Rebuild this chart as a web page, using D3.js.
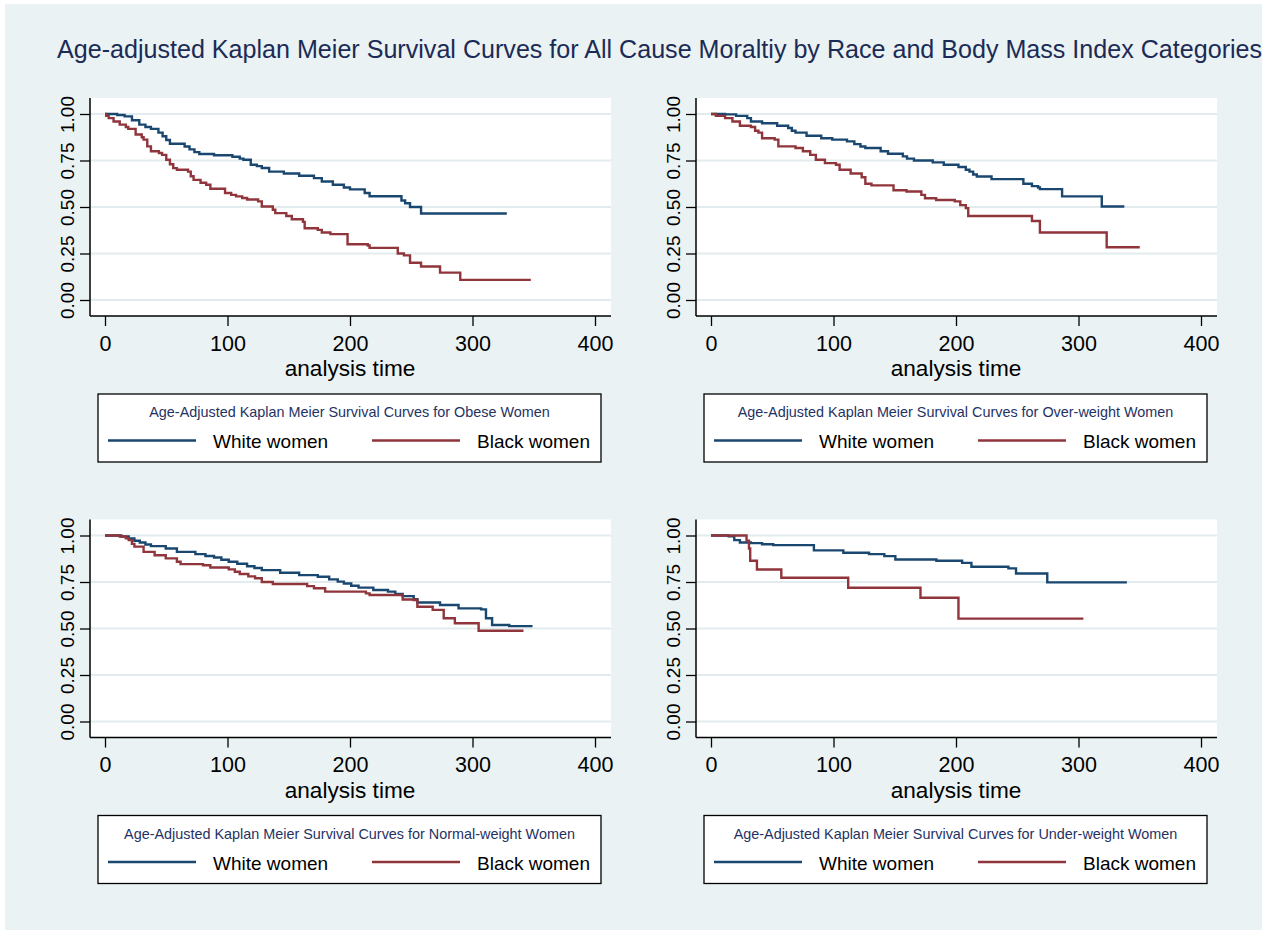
<!DOCTYPE html>
<html>
<head>
<meta charset="utf-8">
<script src="https://cdn.jsdelivr.net/npm/d3@7"></script>
<style>
  body { margin: 0; background: #fff; }
  svg { display: block; font-family: "Liberation Sans", Arial, sans-serif; }
</style>
</head>
<body>
<script>
// survival curves: [analysis time, survival], step after each time
const obeseWhite = [[0,1],[10,0.995],[16,0.987],[22,0.966],[28,0.943],[33,0.93],[37.5,0.92],[43.6,0.9],[47,0.88],[50,0.86],[53,0.84],[65,0.825],[69,0.81],[73,0.795],[77,0.785],[89,0.778],[104,0.77],[110,0.76],[113,0.754],[119,0.727],[124,0.72],[128,0.71],[134,0.69],[146,0.68],[158.5,0.668],[170.6,0.655],[177,0.637],[186,0.62],[195,0.605],[200,0.595],[212,0.575],[216,0.558],[242,0.535],[245,0.52],[249,0.5],[258,0.465],[328,0.465]]
const obeseBlack = [[0,1],[1,0.99],[3,0.978],[7,0.96],[12,0.943],[17,0.93],[19,0.92],[25,0.89],[30,0.875],[31.5,0.862],[34.5,0.826],[37.5,0.8],[44,0.79],[46.6,0.78],[50,0.754],[53,0.73],[55.7,0.709],[58.7,0.7],[67.8,0.69],[70,0.665],[72.3,0.646],[78,0.63],[82.6,0.62],[86,0.598],[98,0.575],[103,0.565],[107,0.557],[112,0.548],[116,0.54],[125,0.53],[128,0.503],[137,0.485],[139,0.467],[148,0.452],[152.5,0.434],[161.6,0.42],[163,0.386],[173.7,0.377],[177,0.363],[184,0.354],[198,0.3],[214.5,0.293],[216,0.28],[239,0.25],[244,0.24],[249,0.2],[258,0.18],[273.5,0.147],[290,0.108],[347.6,0.108]]

const overWhite = [[0,1],[11.5,0.998],[20.5,0.99],[29.6,0.978],[32.6,0.96],[41.7,0.95],[54,0.937],[63,0.925],[66,0.91],[69,0.9],[78,0.883],[90,0.87],[99,0.862],[111,0.853],[117,0.838],[122,0.825],[126,0.817],[138.5,0.8],[144.5,0.786],[156.6,0.772],[160,0.76],[165.7,0.75],[181,0.74],[190,0.727],[202,0.715],[208,0.7],[211,0.69],[214,0.675],[217,0.664],[229,0.65],[255,0.625],[262,0.612],[267,0.605],[268.5,0.596],[286.6,0.557],[319,0.503],[337.4,0.503]]
const overBlack = [[0,1],[4,0.99],[11.5,0.978],[17.5,0.96],[23.6,0.937],[32.6,0.93],[36,0.91],[38.7,0.9],[41.7,0.87],[52,0.862],[55,0.826],[69,0.817],[75,0.8],[81,0.78],[85.6,0.754],[93,0.736],[102,0.727],[105,0.7],[114,0.68],[123,0.66],[126,0.625],[131,0.616],[149,0.59],[159.6,0.583],[171.7,0.565],[174.7,0.547],[183.8,0.538],[199,0.53],[203.5,0.51],[208,0.494],[210,0.452],[262,0.425],[268.5,0.363],[323,0.284],[350,0.284]]

const normalWhite = [[0,1],[13.3,0.995],[19.4,0.984],[24,0.972],[28.4,0.962],[33,0.952],[37.5,0.943],[49.6,0.93],[58.7,0.912],[73.8,0.9],[82,0.89],[89,0.882],[95,0.87],[101,0.859],[108,0.848],[116,0.835],[122,0.825],[128,0.814],[143,0.8],[158.5,0.787],[173.7,0.778],[183,0.764],[190,0.752],[195,0.742],[201,0.73],[207,0.72],[219,0.707],[231,0.698],[237,0.686],[243,0.674],[252,0.657],[255,0.64],[273.5,0.626],[288.6,0.608],[307,0.603],[311,0.555],[316,0.519],[330,0.513],[349,0.513]]
const normalBlack = [[0,1],[12,0.995],[17,0.985],[19.4,0.975],[22,0.955],[24,0.94],[31.5,0.912],[40.5,0.894],[49.6,0.877],[58.7,0.859],[61.7,0.846],[80,0.84],[86,0.828],[101,0.818],[106,0.805],[110,0.793],[117,0.78],[122.5,0.77],[128,0.75],[137,0.739],[165,0.728],[170.6,0.716],[179.7,0.698],[213,0.689],[216,0.68],[243,0.656],[252,0.653],[255,0.617],[267.5,0.6],[276.5,0.555],[285.6,0.528],[305,0.488],[341.6,0.488]]

const underWhite = [[0,1],[14.5,0.996],[19,0.975],[23.6,0.962],[32.6,0.959],[41.7,0.953],[50.8,0.948],[84,0.92],[108,0.907],[129,0.9],[141.5,0.889],[150.5,0.871],[184,0.864],[205,0.853],[212.6,0.832],[242.8,0.823],[249,0.796],[274.5,0.748],[339.5,0.748]]
const underBlack = [[0,1],[29,0.972],[31,0.93],[32,0.864],[37.5,0.817],[57.4,0.773],[112,0.719],[171,0.665],[202,0.553],[304,0.553]]

const xTicks = [0, 100, 200, 300, 400]
const yTicks = [0, 0.25, 0.5, 0.75, 1]
const groups = ["White women", "Black women"]
const legendTitles = [
  "Age-Adjusted Kaplan Meier Survival Curves for Obese Women",
  "Age-Adjusted Kaplan Meier Survival Curves for Over-weight Women",
  "Age-Adjusted Kaplan Meier Survival Curves for Normal-weight Women",
  "Age-Adjusted Kaplan Meier Survival Curves for Under-weight Women"
]
const curves = [[obeseWhite, obeseBlack], [overWhite, overBlack], [normalWhite, normalBlack], [underWhite, underBlack]]

const mainTitle = "Age-adjusted Kaplan Meier Survival Curves for All Cause Moraltiy by Race and Body Mass Index Categories"

var w = 1271
var h = 934
var colors = ["#1A476F", "#90353B"]
var bg = "#EAF2F3"

var svg = d3.select("body").append("svg")
  .attr("width", w)
  .attr("height", h)

// graph region
svg.append("rect")
  .attr("x", 5).attr("y", 4)
  .attr("width", 1257).attr("height", 926)
  .attr("fill", bg)

svg.append("text")
  .attr("x", 57).attr("y", 58)
  .attr("font-size", 25.1)
  .attr("fill", "#1c2b55")
  .text(mainTitle)

// offsets of the four panels
var offsets = [[0, 0], [606, 0], [0, 421.5], [606, 421.5]]

function drawPanel(i) {
  var g = svg.append("g")
    .attr("transform", "translate(" + offsets[i][0] + "," + offsets[i][1] + ")")

  var left = 90, right = 611, top = 98, bottom = 316

  var xScale = d3.scaleLinear().domain([0, 400]).range([105, 595])
  var yScale = d3.scaleLinear().domain([0, 1]).range([300, 114])

  // plot region
  g.append("rect")
    .attr("x", left).attr("y", top)
    .attr("width", right - left).attr("height", bottom - top)
    .attr("fill", "#fff")

  // grid
  g.selectAll(".grid")
    .data(yTicks)
    .enter()
    .append("line")
    .attr("x1", left).attr("x2", right)
    .attr("y1", d => yScale(d)).attr("y2", d => yScale(d))
    .attr("stroke", "#E2ECEE")
    .attr("stroke-width", 2)

  // curves
  var line = d3.line()
    .x(d => xScale(d[0]))
    .y(d => yScale(d[1]))
    .curve(d3.curveStepAfter)

  curves[i].forEach((c, k) => {
    g.append("path")
      .datum(c)
      .attr("d", line)
      .attr("fill", "none")
      .attr("stroke", colors[k])
      .attr("stroke-width", 2.4)
  })

  // axes
  var yAxis = d3.axisLeft(yScale).tickValues(yTicks).tickFormat(d3.format(".2f")).tickSize(10).tickSizeOuter(0)
  var ya = g.append("g")
    .attr("transform", "translate(" + left + ",0)")
    .call(yAxis)
  ya.select(".domain").remove()
  ya.selectAll("line").attr("stroke", "#000").attr("stroke-width", 1.3)
  ya.selectAll("text")
    .attr("transform", "rotate(-90)")
    .attr("x", 0).attr("y", -16).attr("dy", null)
    .attr("text-anchor", "middle")
    .attr("font-size", 19)
    .attr("font-family", null)
    .attr("fill", "#000")

  var xAxis = d3.axisBottom(xScale).tickValues(xTicks).tickSize(10).tickSizeOuter(0)
  var xa = g.append("g")
    .attr("transform", "translate(0," + bottom + ")")
    .call(xAxis)
  xa.select(".domain").remove()
  xa.selectAll("line").attr("stroke", "#000").attr("stroke-width", 1.3)
  xa.selectAll("text")
    .attr("y", 34.5).attr("dy", null)
    .attr("font-size", 21.5)
    .attr("font-family", null)
    .attr("fill", "#000")

  g.append("line")
    .attr("x1", left).attr("x2", left)
    .attr("y1", top).attr("y2", bottom)
    .attr("stroke", "#000").attr("stroke-width", 1.5)
  g.append("line")
    .attr("x1", left).attr("x2", right)
    .attr("y1", bottom).attr("y2", bottom)
    .attr("stroke", "#000").attr("stroke-width", 1.5)

  g.append("text")
    .attr("x", xScale(200)).attr("y", 376)
    .attr("text-anchor", "middle")
    .attr("font-size", 22.6)
    .attr("fill", "#000")
    .text("analysis time")

  // legend
  g.append("rect")
    .attr("x", 98).attr("y", 394)
    .attr("width", 503).attr("height", 68)
    .attr("fill", "#fff")
    .attr("stroke", "#000")
    .attr("stroke-width", 1.3)

  g.append("text")
    .attr("x", 349.5).attr("y", 417)
    .attr("text-anchor", "middle")
    .attr("font-size", 14.4)
    .attr("fill", "#1f3263")
    .text(legendTitles[i])

  groups.forEach((name, k) => {
    var x0 = 108 + k * 264
    g.append("line")
      .attr("x1", x0).attr("x2", x0 + 88)
      .attr("y1", 440.5).attr("y2", 440.5)
      .attr("stroke", colors[k])
      .attr("stroke-width", 2.4)
    g.append("text")
      .attr("x", x0 + 105).attr("y", 448)
      .attr("font-size", 19)
      .attr("fill", "#000")
      .text(name)
  })
}

for (var i = 0; i < 4; i++) {
  drawPanel(i)
}
</script>
</body>
</html>
